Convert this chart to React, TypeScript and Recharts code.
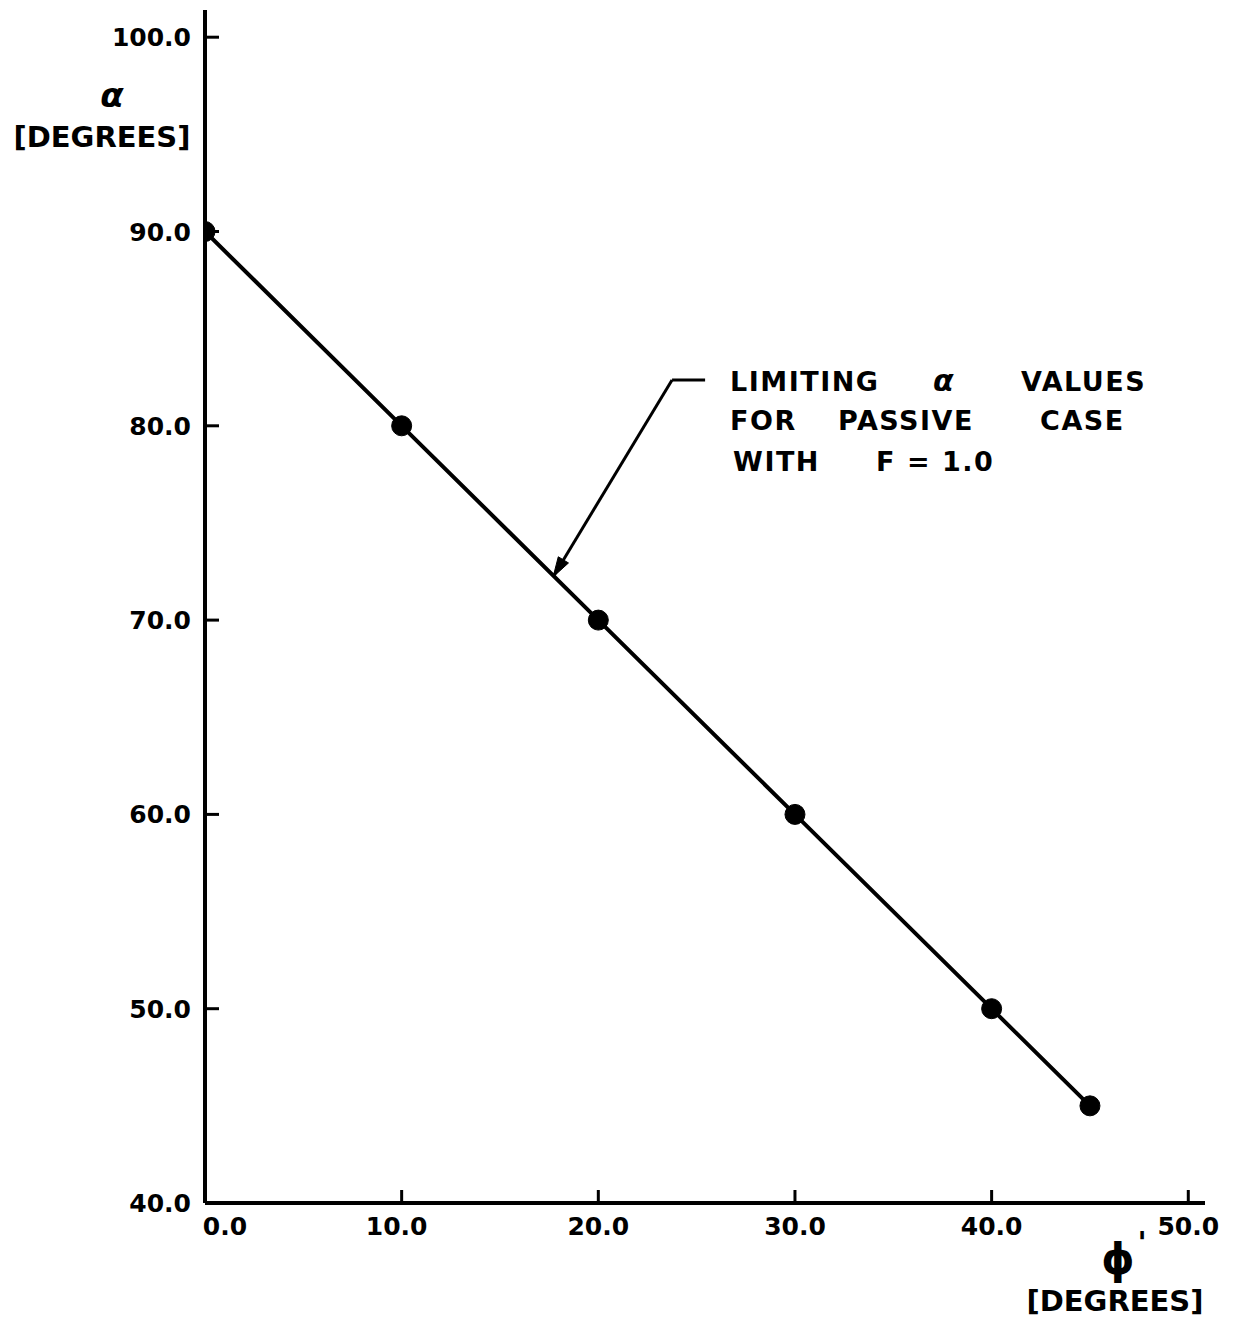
import React from 'react';
import { LineChart, Line, XAxis, YAxis, ReferenceLine, ReferenceDot } from 'recharts';

const phiValues = [0, 10, 20, 30, 40, 45];
const alphaValues = [90, 80, 70, 60, 50, 45];
const xTicks = [0, 10, 20, 30, 40, 50];
const yTicks = [40, 50, 60, 70, 80, 90, 100];
const xTickLabels = ['0.0', '10.0', '20.0', '30.0', '40.0', '50.0'];
const yTickLabels = ['40.0', '50.0', '60.0', '70.0', '80.0', '90.0', '100.0'];

// leader line of the annotation (data coordinates)
const leaderEnd = { x: 25.43, y: 82.36 };
const leaderCorner = { x: 23.75, y: 82.36 };
const arrowTip = { x: 17.7, y: 72.22 };

const annotationLines = [
  ['LIMITING', 'α', 'VALUES'],
  ['FOR', 'PASSIVE', 'CASE'],
  ['WITH', 'F = 1.0'],
];

const data = phiValues.map((p, i) => ({ phi: p, alpha: alphaValues[i] }));

const FONT = '"DejaVu Sans", sans-serif';

const XTick = (props: any) => {
  const { x, y, payload } = props;
  const idx = xTicks.indexOf(payload.value);
  const dx = payload.value === 0 ? 20 : payload.value === 10 ? -5 : 0;
  return (
    <g>
      <line x1={x} y1={y} x2={x} y2={y - 13} stroke="#000" strokeWidth={3} />
      <text x={x + dx} y={y + 32} textAnchor="middle" fontFamily={FONT} fontWeight="bold" fontSize={25} fill="#000">
        {xTickLabels[idx]}
      </text>
    </g>
  );
};

const YTick = (props: any) => {
  const { x, y, payload } = props;
  const idx = yTicks.indexOf(payload.value);
  return (
    <g>
      <line x1={x} y1={y} x2={x + 14} y2={y} stroke="#000" strokeWidth={3} />
      <text x={x - 14} y={y} dy="0.36em" textAnchor="end" fontFamily={FONT} fontWeight="bold" fontSize={25} fill="#000">
        {yTickLabels[idx]}
      </text>
    </g>
  );
};

const YLabel = (props: any) => {
  const vb = props.viewBox || { x: 0, y: 2 };
  const x0 = vb.x;
  const y0 = vb.y;
  return (
    <g>
      <text x={x0 + 104} y={y0 + 97} textAnchor="middle" fontFamily={FONT} fontStyle="italic" fontWeight="bold" fontSize={34} fill="#000">
        α
      </text>
      <text x={x0 + 94} y={y0 + 137} textAnchor="middle" fontFamily={FONT} fontWeight="bold" fontSize={29} fill="#000">
        [DEGREES]
      </text>
    </g>
  );
};

const XLabel = (props: any) => {
  const vb = props.viewBox || { x: 197, y: 1195 };
  const x0 = vb.x;
  const y0 = vb.y;
  return (
    <g>
      <text x={x0 + 913} y={y0 + 71} textAnchor="middle" fontFamily={FONT} fontWeight="bold" fontSize={42} fill="#000">
        ϕ
      </text>
      <text x={x0 + 937} y={y0 + 50} textAnchor="middle" fontFamily={FONT} fontWeight="bold" fontSize={30} fill="#000">
        '
      </text>
      <text x={x0 + 910} y={y0 + 108} textAnchor="middle" fontFamily={FONT} fontWeight="bold" fontSize={29} fill="#000">
        [DEGREES]
      </text>
    </g>
  );
};

const ArrowHead = (props: any) => {
  const { cx, cy } = props;
  if (cx == null || cy == null) return null;
  const pts = `${cx},${cy} ${cx + 15.4},${cy - 14.0} ${cx + 5.2},${cy - 20.2}`;
  return <polygon points={pts} fill="#000" stroke="#000" strokeWidth={1} />;
};

const wordOffsets = [
  [25, 228, 316],
  [25, 133, 335],
  [28, 171],
];
const lineOffsets = [11, 50, 91];

const AnnotationText = (props: any) => {
  const { cx, cy } = props;
  if (cx == null || cy == null) return null;
  return (
    <g>
      {annotationLines.map((words, li) =>
        words.map((w, wi) => (
          <text
            key={`${li}-${wi}`}
            x={cx + wordOffsets[li][wi]}
            y={cy + lineOffsets[li]}
            fontFamily={FONT}
            fontWeight="bold"
            fontStyle={w === 'α' ? 'italic' : 'normal'}
            fontSize={w === 'α' ? 30 : 27}
            letterSpacing={w === 'α' ? 0 : 1.5}
            fill="#000"
          >
            {w}
          </text>
        ))
      )}
    </g>
  );
};

export default function App() {
  return (
    <div style={{ width: 1220, height: 1320, background: '#fff' }}>
      <LineChart width={1220} height={1320} data={data} margin={{ top: 2, right: 23, bottom: 0, left: 0 }}>
        <XAxis
          dataKey="phi"
          type="number"
          domain={[0, 50.85]}
          ticks={xTicks}
          allowDataOverflow
          height={125}
          tickSize={0}
          tickMargin={0}
          tickLine={false}
          tick={<XTick />}
          axisLine={{ stroke: '#000', strokeWidth: 4 }}
          label={<XLabel />}
          interval={0}
        />
        <YAxis
          dataKey="alpha"
          type="number"
          domain={[40, 101.4]}
          ticks={yTicks}
          allowDataOverflow
          width={197}
          tickSize={0}
          tickMargin={0}
          tickLine={false}
          tick={<YTick />}
          axisLine={{ stroke: '#000', strokeWidth: 4 }}
          label={<YLabel />}
          interval={0}
        />
        <Line
          type="linear"
          dataKey="alpha"
          stroke="#000"
          strokeWidth={4}
          dot={{ r: 10, fill: '#000', stroke: '#000', strokeWidth: 1 }}
          activeDot={false}
          isAnimationActive={false}
        />
        <ReferenceLine
          segment={[leaderEnd, leaderCorner]}
          stroke="#000"
          strokeWidth={3}
          ifOverflow="visible"
        />
        <ReferenceLine
          segment={[leaderCorner, arrowTip]}
          stroke="#000"
          strokeWidth={3}
          ifOverflow="visible"
        />
        <ReferenceDot x={arrowTip.x} y={arrowTip.y} r={1} shape={<ArrowHead />} ifOverflow="visible" />
        <ReferenceDot x={leaderEnd.x} y={leaderEnd.y} r={1} shape={<AnnotationText />} ifOverflow="visible" />
      </LineChart>
    </div>
  );
}
